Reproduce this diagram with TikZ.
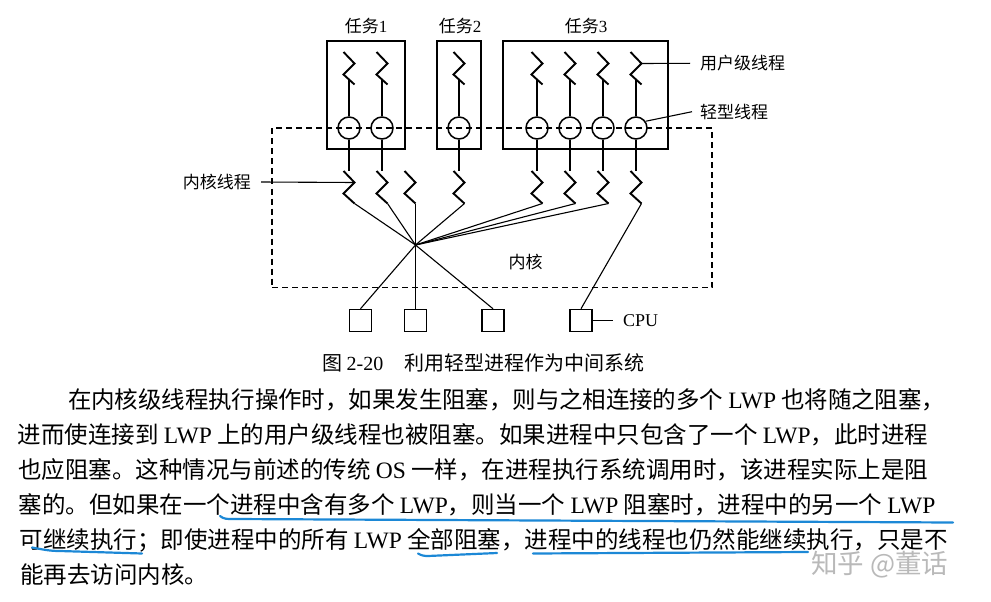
\documentclass[tikz,border=0pt]{standalone}
\usepackage{fontspec}
\setmainfont{Liberation Serif}
\newfontfamily\cjk{Noto Sans CJK SC}
\XeTeXlinebreaklocale "zh"
\XeTeXlinebreakskip=0pt plus 4pt minus 2pt
\definecolor{ubl}{RGB}{28,136,214}
\definecolor{wmk}{RGB}{185,185,185}
\newcommand\latw[1]{{\rmfamily #1}}
\begin{document}
\begin{tikzpicture}[x=1pt,y=-1pt,
  box/.style={draw,line width=1.5pt,inner sep=0},
  thr/.style={line width=1.1pt},
  zz/.style={line width=1.9pt},
  lwp/.style={circle,draw,line width=1.5pt,minimum size=22pt,inner sep=0},
  cpubox/.style={draw,line width=1.5pt,minimum size=22pt,inner sep=0},
  dsh/.style={draw,line width=1.8pt,dash pattern=on 6pt off 4pt,inner sep=0},
  lab/.style={font=\cjk\fontsize{17pt}{17pt}\selectfont,inner sep=0,text height=15pt,text depth=2pt},
  captxt/.style={font=\cjk\fontsize{20pt}{20pt}\selectfont,inner sep=0,text height=17.6pt,text depth=2.4pt},
  para/.style={anchor=base west,inner sep=0,align=justify,font=\cjk\fontsize{23.5pt}{30pt}\selectfont},
  ul/.style={draw=ubl,line width=2.2pt,line cap=round,line join=round}
]
\fill[white] (0,0) rectangle (991,602);
\useasboundingbox (0,0) rectangle (991,602);

% task boxes
\node[box,minimum width=78pt,minimum height=108pt] (t1) at (366,95) {};
\node[box,minimum width=44pt,minimum height=108pt] (t2) at (459,95) {};
\node[box,minimum width=165pt,minimum height=108pt] (t3) at (585.5,95) {};
\node[lab] (n1) at (366,26) {任务\latw{1}};
\node[lab] (n2) at (460,26) {任务\latw{2}};
\node[lab] (n3) at (586,26) {任务\latw{3}};

% user threads + LWPs
\foreach \i/\x in {1/349,2/382,3/459,4/537,5/570,6/603,7/636}{
  \coordinate (ut\i) at (\x,52);
  \coordinate (ub\i) at (\x,79.5);
  \draw[zz] ([xshift=-5.5pt]ut\i) -- ++(11,11.5) -- ++(-11,11) -- ++(11,10);
  \node[lwp] (c\i) at (\x,128) {};
  \draw[thr] (ub\i) -- (c\i);
}
\coordinate (uv7) at (641.5,63.5);

% kernel threads
\foreach \i/\x in {1/349,2/382,3/410,4/459,5/537,6/570,7/603,8/636}{
  \coordinate (kt\i) at (\x,171);
  \coordinate (ke\i) at (\x+5.5,203.5);
  \draw[zz] ([xshift=-5.5pt]kt\i) -- ++(11,11.5) -- ++(-11,11) -- ++(11,10);
}
\coordinate (kv1) at (354.5,182.5);
\foreach \a/\b in {1/1,2/2,3/4,4/5,5/6,6/7,7/8}{
  \draw[thr] (c\a) -- (kt\b);
}

% CPUs
\node[cpubox] (cpu1) at (360.5,320.5) {};
\node[cpubox] (cpu2) at (415.5,320.5) {};
\node[cpubox] (cpu3) at (493,320.5) {};
\node[cpubox] (cpu4) at (581,320.5) {};

% multiplexing
\coordinate (P) at (415.5,245);
\foreach \k in {1,2,4,5,6,7}{
  \draw[thr] (ke\k) -- (P);
}
\draw[thr] (ke3) -- (P) -- (cpu2.north);
\draw[thr] (P) -- (cpu1.north);
\draw[thr] (P) -- (cpu3.north);
\draw[thr] (ke8) -- (cpu4.north);

% kernel region
\node[dsh,minimum width=440pt,minimum height=159.5pt] (kern) at (492,207.75) {};
\node[lab] (lkern) at (525.5,262) {内核};

% labels
\node[lab,anchor=east] (lk) at (251,182) {内核线程};
\draw[thr] ([xshift=10pt]lk.east) -- (kv1);
\node[lab,anchor=west] (lu) at (700,63.3) {用户级线程};
\draw[thr] (uv7) -- ([xshift=-10pt]lu.west);
\node[lab,anchor=west] (lq) at (700,111.7) {轻型线程};
\draw[thr] (c7.35) -- ([xshift=-8pt]lq.west);
\node[inner sep=0,anchor=west,font=\rmfamily\fontsize{18pt}{18pt}\selectfont,text height=12pt,text depth=0pt] (lcpu) at (623,320.5) {CPU};
\draw[thr] (cpu4.east) -- ([xshift=-10pt]lcpu.west);

% caption
\node[captxt,anchor=west] (capt) at (322,363) {图 \latw{2-20}\hspace{21pt}利用轻型进程作为中间系统};

% paragraph
\node[para,text width=877pt] (p1) at (68,408.9) {\parfillskip=0pt\relax\noindent 在内核级线程执行操作时，如果发生阻塞，则与之相连接的多个 \latw{LWP} 也将随之阻塞，};
\node[para,text width=926.5pt] (p2) at (17.5,443.8) {\parfillskip=0pt\relax\noindent 进而使连接到 \latw{LWP} 上的用户级线程也被阻塞。如果进程中只包含了一个 \latw{LWP}，此时进程};
\node[para,text width=926pt] (p3) at (18,478.7) {\parfillskip=0pt\relax\noindent 也应阻塞。这种情况与前述的传统 \latw{OS} 一样，在进程执行系统调用时，该进程实际上是阻};
\node[para,text width=931.5pt] (p4) at (18.5,513.6) {\parfillskip=0pt\relax\noindent 塞的。但如果在一个进程中含有多个 \latw{LWP}，则当一个 \latw{LWP} 阻塞时，进程中的另一个 \latw{LWP}};
\node[para,text width=930.5pt] (p5) at (19.5,548.5) {\parfillskip=0pt\relax\noindent 可继续执行；即使进程中的所有 \latw{LWP} 全部阻塞，进程中的线程也仍然能继续执行，只是不};
\node[para,text width=300pt] (p6) at (20,583.4) {\noindent 能再去访问内核。};

% hand-drawn underlines
\draw[ul] (220,516) to[out=-40,in=180] (232,519) -- (953,522.5);
\draw[ul] (32,547.5) to[out=-10,in=180] (60,551) -- (142,553.5);
\draw[ul] (418,553.5) to[out=-30,in=180] (428,556) -- (497,553);
\draw[ul] (533,553.5) -- (808,552);

% watermark
\node[inner sep=0,anchor=west,text=wmk,font=\cjk\fontsize{26.5pt}{26.5pt}\selectfont,text height=23.3pt,text depth=3.2pt] (wm) at (811,563.5) {知乎 @董话};
\end{tikzpicture}
\end{document}
